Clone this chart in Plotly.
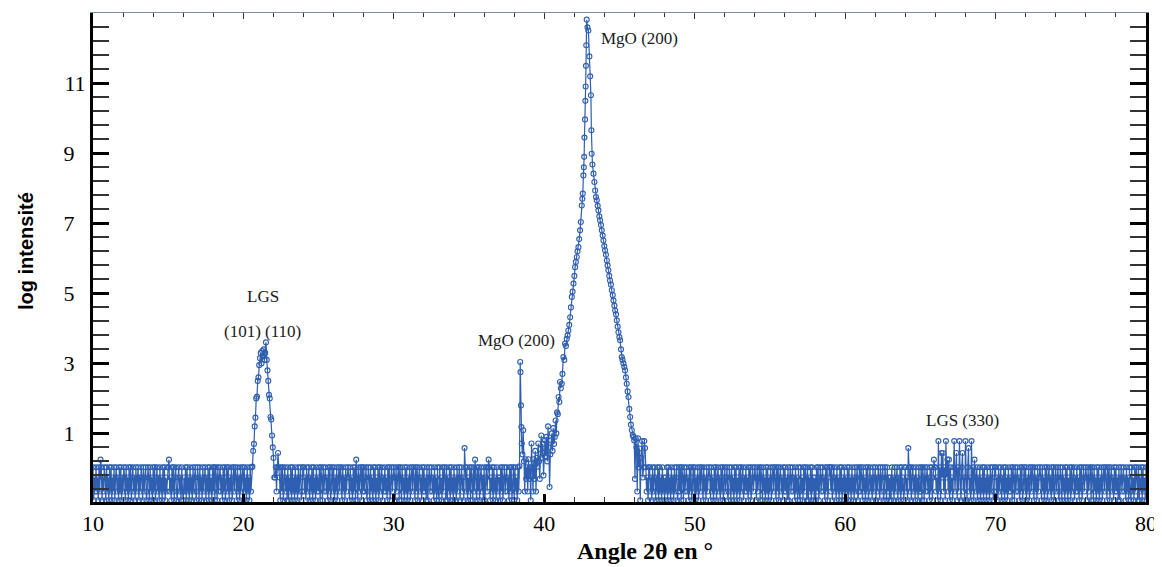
import numpy as np
import plotly.graph_objects as go

# ---------------- data ----------------
# baseline noise levels (log intensity) coded as digits
LEVELS = {'0': 0.03, '1': -0.26, '2': -0.66, '3': -0.91,
          '4': 0.25, '5': 0.58, '6': 0.44, '7': 0.78}

# baseline 10.0 -> 20.55 (step 0.05)
base_a_range = (10.0, 20.55)
base_a_codes = ("03120213024031201302" "13020312031021302031" "20130213020310213021"
                "03120130210320130213" "02031021302130203120" "04213020310231021302"
                "31203021302130210320" "13021302103120302130" "20301302102130203102"
                "03120310201302130210" "302130213020")

# LGS (101)(110) peak
lgs_x = [20.60, 20.65, 20.70, 20.75, 20.80, 20.85, 20.90, 20.95, 21.00, 21.05,
         21.10, 21.15, 21.20, 21.25, 21.30, 21.35, 21.40, 21.45, 21.50, 21.55,
         21.60, 21.65, 21.70, 21.75, 21.80, 21.85, 21.90, 21.95, 22.00, 22.05]
lgs_y = [0.05, 0.50, 0.70, 1.20, 1.45, 2.00, 2.05, 2.50, 2.60, 2.95,
         3.15, 3.30, 3.00, 3.35, 3.20, 3.40, 3.10, 3.30, 3.60, 3.10,
         2.80, 2.50, 2.10, 2.00, 1.47, 1.40, 0.94, 0.60, 0.30, -0.26]

# baseline 22.1 -> 38.3
base_b_range = (22.1, 38.3)
base_b_codes = ("102060130203102130"
                "31203021302130210320" "02130210312030213021" "20301302102130203102"
                "03120310201302130210" "13021302034130210302" "02103201302130203120"
                "30210312021302031021" "01302103013021302031" "20310201302031021302"
                "02130310210213021302" "30213020130312030213" "02130210310213502031"
                "20301302413020310213" "03102040312030213021" "13020310210213020310"
                "3021302")

# MgO region (small peak + main MgO (200) peak)
mgo_x = [38.35, 38.40, 38.42, 38.45, 38.48, 38.50, 38.55, 38.60, 38.65, 38.70,
         38.75, 38.80, 38.85, 38.90, 38.95, 39.00, 39.05, 39.10, 39.15, 39.20,
         39.25, 39.30, 39.35, 39.40, 39.45, 39.50, 39.55, 39.60, 39.65, 39.70,
         39.75, 39.80, 39.85, 39.90, 39.95, 40.00, 40.05, 40.10, 40.15, 40.20,
         40.25, 40.30, 40.35, 40.40, 40.45, 40.50, 40.55, 40.60, 40.65, 40.70,
         40.75, 40.80, 40.85, 40.90, 40.95, 41.00, 41.05, 41.10, 41.16, 41.21,
         41.27, 41.33, 41.38, 41.44, 41.49, 41.55, 41.60, 41.66, 41.72, 41.77,
         41.83, 41.88, 41.94, 42.00, 42.05, 42.10, 42.16, 42.21, 42.27, 42.32,
         42.38, 42.43, 42.49, 42.53, 42.56, 42.60, 42.63, 42.65, 42.67, 42.71,
         42.73, 42.75, 42.77, 42.79, 42.82, 42.87, 42.93, 43.00, 43.05, 43.10,
         43.13, 43.15, 43.20, 43.27, 43.33, 43.38, 43.44, 43.49, 43.55, 43.60,
         43.66, 43.71, 43.77, 43.82, 43.88, 43.93, 43.99, 44.04, 44.10, 44.16,
         44.21, 44.26, 44.32, 44.37, 44.43, 44.49, 44.55, 44.60, 44.66, 44.71,
         44.77, 44.82, 44.88, 44.93, 44.99, 45.04, 45.10, 45.15, 45.20, 45.26,
         45.32, 45.37, 45.43, 45.48, 45.54, 45.60, 45.65, 45.71, 45.76, 45.82,
         45.88, 45.93, 45.98, 46.03, 46.08, 46.13, 46.18, 46.23, 46.28, 46.33,
         46.38, 46.43]
mgo_y = [0.06, 3.04, 2.75, 1.80, 1.18, 0.71, 0.40, 1.09, 0.20, -0.66,
         0.26, -0.30, 0.03, -0.66, 0.26, -0.30, 0.03, -0.91, 0.71, 0.03,
         -0.66, 0.26, -0.30, 0.50, -0.66, 0.30, 0.05, 0.71, 0.20, -0.30,
         0.55, 0.94, 0.30, 0.70, -0.20, 0.45, 0.80, 0.35, 0.90, 0.20,
         1.20, 0.60, -0.53, 0.40, 0.80, 1.00, 0.50, 1.15, 0.70, 0.90,
         1.37, 1.00, 1.60, 1.55, 2.04, 1.90, 2.47, 2.29, 2.42, 2.70,
         3.18, 3.10, 3.56, 3.50, 3.70, 3.80, 3.94, 4.10, 4.32, 4.60,
         4.90, 5.05, 5.28, 5.50, 5.75, 5.90, 6.04, 6.20, 6.32, 6.55,
         6.80, 7.04, 7.51, 7.70, 7.85, 8.37, 8.60, 8.90, 9.45, 9.97,
         10.50, 10.91, 11.50, 12.09, 12.82, 12.60, 12.51, 11.77, 11.20, 10.66,
         9.66, 8.99, 8.68, 8.42, 8.18, 7.94, 7.75, 7.66, 7.50, 7.37,
         7.20, 7.09, 6.95, 6.80, 6.65, 6.51, 6.35, 6.23, 6.10, 5.94,
         5.80, 5.66, 5.50, 5.37, 5.25, 5.09, 4.95, 4.80, 4.65, 4.51,
         4.40, 4.23, 4.05, 3.89, 3.75, 3.66, 3.40, 3.18, 3.10, 3.00,
         2.90, 2.80, 2.60, 2.42, 2.20, 2.04, 1.70, 1.47, 1.25, 1.09,
         0.95, 0.90, 0.80, -0.30, 0.85, 0.60, -0.66, 0.86, 0.03, 0.57,
         -0.91, 0.30]

# baseline 46.5 -> 80.0 (includes LGS (330) bumps)
base_c_range = (46.5, 80.0)
base_c_codes = ("7107502130"
                "02130210312030213021" "31203021302130210320" "20301302102130203102"
                "03120310201302130210" "13021302031021302031" "02103201302130203120"
                "30210312021302031021" "01302103013021302031" "20310201302031021302"
                "02130310210213021302" "30213020130312030213" "13020310210213020310"
                "02031021302130203120" "31203021302130210320" "20130213020310213021"
                "03120130210320130213" "13021302103120302130" "02135020310213021302"
                "20301302102130203140" "02137203616203714243" "02130721630271306213"
                "71305213720341203120" "31203021302130210320" "02130210312030213021"
                "20301302102130203102" "03120310201302130210" "13021302031021302031"
                "02103201302130203120" "30210312021302031021" "01302103013021302031"
                "20310201302031021302" "02130310210213021302" "30213020130312030213"
                "0")

x_ticks = [10, 20, 30, 40, 50, 60, 70, 80]
y_ticks = [1, 3, 5, 7, 9, 11]
y_tick_text = ["1\u2007", "3\u2007", "5\u2007", "7\u2007", "9\u2007", "11"]

labels = [
    ("MgO (200)", 46.30, 12.29),
    ("LGS", 21.30, 4.91),
    ("(101) (110)", 21.30, 3.91),
    ("MgO (200)", 38.12, 3.66),
    ("LGS (330)", 67.78, 1.37),
]

# ---------------- build series ----------------
def baseline(rng, codes):
    xs = np.linspace(rng[0], rng[1], len(codes)).tolist()
    ys = [LEVELS[c] for c in codes]
    return xs, ys

ax, ay = baseline(base_a_range, base_a_codes)
bx, by = baseline(base_b_range, base_b_codes)
cx, cy = baseline(base_c_range, base_c_codes)

x_all = ax + lgs_x + bx + mgo_x + cx
y_all = ay + lgs_y + by + mgo_y + cy

blue = "#2f5fb0"

fig = go.Figure()
fig.add_trace(go.Scatter(
    x=x_all, y=y_all, mode="lines+markers",
    line=dict(color=blue, width=1.2),
    marker=dict(symbol="circle-open", size=5, color=blue,
                line=dict(color=blue, width=1.1)),
    showlegend=False, hoverinfo="skip"))
# helper trace so the top (mirror) axis is drawn
fig.add_trace(go.Scatter(x=[10, 80], y=[None, None], xaxis="x2",
                         showlegend=False, hoverinfo="skip"))

serif = "Liberation Serif"

# page body has an 8px margin, so offset margins to land the plot box
# at screen px x 93..1146, y 13..502
fig.update_layout(
    width=1162, height=567,
    margin=dict(l=85, r=24, t=5, b=73),
    paper_bgcolor="white", plot_bgcolor="white",
    showlegend=False,
    xaxis=dict(
        range=[10, 80], tickmode="array", tickvals=x_ticks,
        ticks="inside", ticklen=8, tickwidth=3, tickcolor="black",
        showline=True, linewidth=3, linecolor="black", mirror=False,
        showgrid=False, zeroline=False,
        tickfont=dict(family=serif, size=22, color="black"),
        minor=dict(tickmode="linear", tick0=10, dtick=2, ticks="inside",
                   ticklen=5, tickwidth=1, tickcolor="#333", showgrid=False),
    ),
    xaxis2=dict(
        overlaying="x", matches="x", side="top", range=[10, 80],
        tickmode="array", tickvals=x_ticks,
        showline=True, linewidth=1, linecolor="#7d8ca3",
        ticks="inside", ticklen=6, tickwidth=1, tickcolor="#333",
        showticklabels=False, showgrid=False, zeroline=False,
        minor=dict(tickmode="linear", tick0=10, dtick=2, ticks="inside",
                   ticklen=4, tickwidth=1, tickcolor="#333", showgrid=False),
    ),
    yaxis=dict(
        range=[-0.96, 13.01], tickmode="array", tickvals=y_ticks, ticktext=y_tick_text,
        ticks="inside", ticklen=16, tickwidth=3, tickcolor="black",
        showline=True, linewidth=3, linecolor="black", mirror="allticks",
        showgrid=False, zeroline=False,
        tickfont=dict(family=serif, size=22, color="black"),
        minor=dict(tickmode="linear", tick0=1, dtick=0.4, ticks="inside",
                   ticklen=11, tickwidth=1.5, tickcolor="#333", showgrid=False),
    ),
)

for text, xv, yv in labels:
    fig.add_annotation(x=xv, y=yv, xref="x", yref="y", text=text, showarrow=False,
                       xanchor="center", yanchor="middle",
                       font=dict(family=serif, size=17, color="#1a1a1a"))

# axis titles positioned by screen pixel, converted to paper coords
PLOT_L, PLOT_B, PLOT_W, PLOT_H = 93, 502, 1053, 489
def paper(px, py):
    return (px - PLOT_L) / PLOT_W, (PLOT_B - py) / PLOT_H

tx, ty = paper(26, 251)
fig.add_annotation(x=tx, y=ty, xref="paper", yref="paper", text="<b>log intensité</b>",
                   showarrow=False, textangle=-90, xanchor="center", yanchor="middle",
                   font=dict(family="Liberation Sans", size=20, color="black"))
tx, ty = paper(645, 551)
fig.add_annotation(x=tx, y=ty, xref="paper", yref="paper", text="<b>Angle 2θ en °</b>",
                   showarrow=False, xanchor="center", yanchor="middle",
                   font=dict(family=serif, size=24, color="black"))

fig.write_html("out.html")
